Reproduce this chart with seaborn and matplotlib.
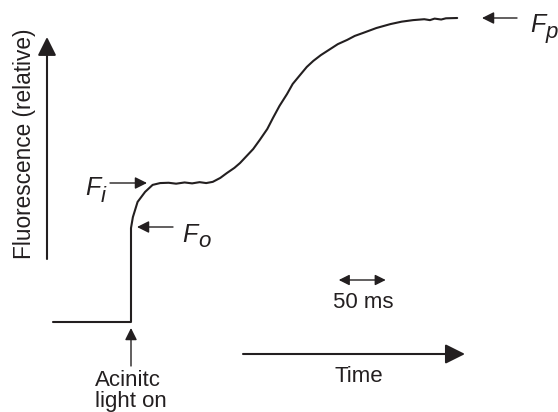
import matplotlib
matplotlib.use('Agg')
import matplotlib.pyplot as plt
import seaborn as sns

# Fluorescence induction trace
# time in ms relative to actinic light on, fluorescence relative to Fp
time_ms = [-83, 0, 0, 2, 7, 15, 23, 31, 40, 48,
           57, 65, 73, 80, 87, 95, 102, 110, 116, 123,
           130, 137, 145, 151, 158, 166, 172, 180, 187, 194,
           202, 212, 220, 230, 238, 247, 261, 276, 288, 300,
           312, 318, 323, 330, 335, 347]
fluor = [0, 0, 0.309, 0.345, 0.395, 0.428, 0.451, 0.457, 0.458, 0.455,
         0.459, 0.456, 0.460, 0.457, 0.461, 0.474, 0.490, 0.507, 0.523, 0.546,
         0.569, 0.599, 0.635, 0.671, 0.711, 0.750, 0.783, 0.813, 0.839, 0.859,
         0.878, 0.898, 0.914, 0.928, 0.941, 0.951, 0.967, 0.980, 0.988, 0.993,
         0.996, 0.993, 0.998, 0.995, 0.999, 1.0]

scale_bar_ms = 50
scale_bar_start = 221
level_labels = ['i', 'o', 'p']

sns.set_style('white')
plt.rcParams['font.family'] = ['Liberation Sans', 'DejaVu Sans']

INK = '#231f20'
W, H = 558, 412
X0, PX_PER_MS = 131, 0.94
Y0, PX_PER_UNIT = 322, 304


def P(x, y):
    # picture pixel (from top-left) -> data units
    return ((x - X0) / PX_PER_MS, (Y0 - y) / PX_PER_UNIT)


fig = plt.figure(figsize=(W / 100, H / 100), dpi=100)
ax = fig.add_axes([0, 0, 1, 1])
ax.set_xlim(P(0, 0)[0], P(W, 0)[0])
ax.set_ylim(P(0, H)[1], P(0, 0)[1])
ax.axis('off')

sns.lineplot(x=time_ms, y=fluor, estimator=None, sort=False, color=INK, lw=1.5, ax=ax)


def arrow(tail, tip, scale, lw, style='-|>'):
    ax.annotate('', xy=tip, xytext=tail,
                arrowprops=dict(arrowstyle=style, color=INK, lw=lw, mutation_scale=scale,
                                shrinkA=0, shrinkB=0))


# axes arrows
arrow(P(47, 259), P(47, 37), 28, 1.5)
arrow(P(243, 354), P(465, 354), 30, 1.5)

# 50 ms scale bar
yb = P(0, 280)[1]
arrow((scale_bar_start, yb), (scale_bar_start + scale_bar_ms, yb), 16, 1.0, '<|-|>')

# level markers
arrow(P(131, 366), P(131, 328), 18, 1.0)
arrow(P(110, 183), P(147, 183), 18, 1.0)
arrow(P(173, 227), P(137, 227), 18, 1.0)
arrow(P(517, 18), P(482, 18), 18, 1.0)

# F labels with subscripts
for (fx, fy, sy), sub in zip([(85, 195, 202), (182, 242, 247), (530, 32, 38)], level_labels):
    ax.text(*P(fx, fy), 'F', fontsize=18, style='italic', color=INK, ha='left', va='baseline')
    ax.text(*P(fx + 16, sy), sub, fontsize=16, style='italic', color=INK, ha='left', va='baseline')

ax.text(*P(31, 144), 'Fluorescence (relative)', fontsize=16.3, color=INK, rotation=90,
        rotation_mode='anchor', ha='center', va='baseline')
ax.text(*P(363, 308), '50 ms', fontsize=16, color=INK, ha='center', va='baseline')
ax.text(*P(359, 382), 'Time', fontsize=16, color=INK, ha='center', va='baseline')
ax.text(*P(95, 386), 'Acinitc', fontsize=16, color=INK, ha='left', va='baseline')
ax.text(*P(95, 407), 'light on', fontsize=16, color=INK, ha='left', va='baseline')

fig.savefig('out.png', dpi=100)
